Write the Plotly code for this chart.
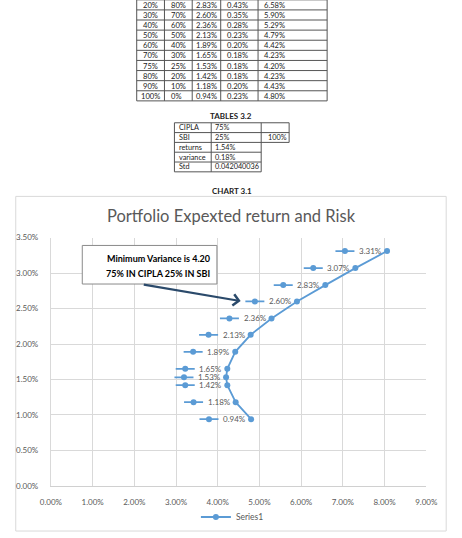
import plotly.graph_objects as go

# ---------------- data ----------------
cipla_w = ["0%", "10%", "20%", "30%", "40%", "50%", "60%", "70%", "75%", "80%", "90%", "100%"]
sbi_w = ["100%", "90%", "80%", "70%", "60%", "50%", "40%", "30%", "25%", "20%", "10%", "0%"]
returns_pct = [3.31, 3.07, 2.83, 2.60, 2.36, 2.13, 1.89, 1.65, 1.53, 1.42, 1.18, 0.94]
variance_pct = [0.65, 0.53, 0.43, 0.35, 0.28, 0.23, 0.20, 0.18, 0.18, 0.18, 0.20, 0.23]
std_pct = [8.06, 7.30, 6.58, 5.90, 5.29, 4.79, 4.42, 4.23, 4.20, 4.23, 4.43, 4.80]

t2_labels = ["CIPLA", "SBI", "returns", "variance", "Std"]
t2_values = ["75%", "25%", "1.54%", "0.18%", "0.042040036"]
t2_extra = ["", "100%"]

chart_title = "Portfolio Expexted return and Risk"
note_lines = ["Minimum Variance is 4.20", "75% IN CIPLA 25% IN SBI"]

# ---------------- geometry helpers ----------------
W, H = 462, 538
def px(x):
    return x / W
def py(y):
    return 1 - y / H

FONT = "Lato"
BLUE = "#5B9BD5"
GRAY_TXT = "#595959"

# plot area in pixels
PL, PR, PT, PB = 42, 437, 237, 490
XMAX, YMAX = 0.09, 0.035
px_per_x = (PR - PL) / XMAX

x_vals = [v / 100 for v in std_pct]
y_vals = [v / 100 for v in returns_pct]

fig = go.Figure()

# data-label legend keys (placed left of each point)
key_off = 44.3 / px_per_x
seg = 10.0 / px_per_x
kx, ky = [], []
for x, y in zip(x_vals, y_vals):
    kx += [x - key_off - seg, x - key_off + seg, None]
    ky += [y, y, None]
fig.add_trace(go.Scatter(x=kx, y=ky, mode="lines", line=dict(color=BLUE, width=1.8),
                         showlegend=False, hoverinfo="skip"))
fig.add_trace(go.Scatter(x=[x - key_off for x in x_vals], y=y_vals, mode="markers",
                         marker=dict(color=BLUE, size=6), showlegend=False, hoverinfo="skip"))

# main series
fig.add_trace(go.Scatter(x=x_vals, y=y_vals, mode="lines+markers", name="Series1",
                         line=dict(color=BLUE, width=1.8), marker=dict(color=BLUE, size=6)))

annotations = []
shapes = []

# data labels
for x, y, r in zip(x_vals, y_vals, returns_pct):
    annotations.append(dict(x=x, y=y, xref="x", yref="y", text=f"{r:.2f}%", showarrow=False,
                            xanchor="left", yanchor="middle", xshift=-30,
                            font=dict(family=FONT, size=8, color=GRAY_TXT)))

# ---------------- table 1 (top, partially scrolled off) ----------------
LINE_C = "#555555"
t1_cols = [132.3, 161.5, 190.7, 220.7, 260.0, 332.7]
row_h = 10.3
first_center = -0.15 - 2 * row_h
bottom = first_center + (len(cipla_w) - 0.5) * row_h
for i in range(len(cipla_w) + 1):
    yb = first_center - row_h / 2 + i * row_h
    shapes.append(dict(type="line", xref="paper", yref="paper", x0=px(t1_cols[0]), x1=px(t1_cols[-1]),
                       y0=py(yb), y1=py(yb), line=dict(color=LINE_C, width=1)))
for c in t1_cols:
    shapes.append(dict(type="line", xref="paper", yref="paper", x0=px(c), x1=px(c),
                       y0=py(first_center - row_h / 2), y1=py(bottom), line=dict(color=LINE_C, width=1)))
tfont = dict(family=FONT, size=7.6, color="#222222")
for i in range(len(cipla_w)):
    yc = first_center + i * row_h
    cells = [cipla_w[i], sbi_w[i], f"{returns_pct[i]:.2f}%", f"{variance_pct[i]:.2f}%", f"{std_pct[i]:.2f}%"]
    xs = [146.5, 166.0, 193.0, 225.5, 264.5]
    anchors = ["center", "left", "left", "left", "left"]
    for t, xx, a in zip(cells, xs, anchors):
        annotations.append(dict(x=px(xx), y=py(yc), xref="paper", yref="paper", text=t, showarrow=False,
                                xanchor=a, yanchor="middle", font=tfont))

annotations.append(dict(x=px(232), y=py(113), xref="paper", yref="paper", text="<b>TABLES 3.2</b>",
                        showarrow=False, xanchor="center", yanchor="middle",
                        font=dict(family=FONT, size=8, color="#222222")))

# ---------------- table 2 ----------------
t2_cols = [172.0, 210.7, 263.3, 292.7]
t2_top, t2_h = 120.0, 10.0
n2 = len(t2_labels)
for i in range(n2 + 1):
    yb = t2_top + i * t2_h
    xr = t2_cols[3] if i <= 2 else t2_cols[2]
    shapes.append(dict(type="line", xref="paper", yref="paper", x0=px(t2_cols[0]), x1=px(xr),
                       y0=py(yb), y1=py(yb), line=dict(color=LINE_C, width=1)))
for j, c in enumerate(t2_cols):
    yend = t2_top + (n2 if j <= 2 else 2) * t2_h
    shapes.append(dict(type="line", xref="paper", yref="paper", x0=px(c), x1=px(c),
                       y0=py(t2_top), y1=py(yend), line=dict(color=LINE_C, width=1)))
t2font = dict(family=FONT, size=7.3, color="#222222")
for i in range(n2):
    yc = t2_top + (i + 0.5) * t2_h
    annotations.append(dict(x=px(174.5), y=py(yc), xref="paper", yref="paper", text=t2_labels[i],
                            showarrow=False, xanchor="left", yanchor="middle", font=t2font))
    annotations.append(dict(x=px(213.0), y=py(yc), xref="paper", yref="paper", text=t2_values[i],
                            showarrow=False, xanchor="left", yanchor="middle", font=t2font))
    if i < len(t2_extra) and t2_extra[i]:
        annotations.append(dict(x=px(268.5), y=py(yc), xref="paper", yref="paper", text=t2_extra[i],
                                showarrow=False, xanchor="left", yanchor="middle", font=t2font))

annotations.append(dict(x=px(233), y=py(190), xref="paper", yref="paper", text="<b>CHART 3.1</b>",
                        showarrow=False, xanchor="center", yanchor="middle",
                        font=dict(family=FONT, size=8, color="#222222")))

# ---------------- chart frame, title, note ----------------
shapes.append(dict(type="rect", xref="paper", yref="paper", x0=px(5), x1=px(458), y0=py(195), y1=py(536),
                   line=dict(color="#d9d9d9", width=1), fillcolor="rgba(0,0,0,0)", layer="below"))
annotations.append(dict(x=px(232), y=py(215), xref="paper", yref="paper", text=chart_title,
                        showarrow=False, xanchor="center", yanchor="middle",
                        font=dict(family=FONT, size=16.5, color=GRAY_TXT)))

shapes.append(dict(type="rect", xref="paper", yref="paper", x0=px(75), x1=px(216.7), y0=py(245), y1=py(284.3),
                   line=dict(color="#8a8a8a", width=1), fillcolor="white", layer="above"))
for k, line in enumerate(note_lines):
    annotations.append(dict(x=px(155), y=py(258.5 + 15 * k), xref="paper", yref="paper",
                            text=f"<b>{line}</b>", showarrow=False, xanchor="center", yanchor="middle",
                            font=dict(family=FONT, size=9, color="#000000")))
annotations.append(dict(x=px(241.7), y=py(301.7), xref="paper", yref="paper", text="",
                        showarrow=True, arrowhead=4, arrowsize=1, arrowwidth=2.2, arrowcolor="#2B4A6B",
                        ax=143.3 - 241.7, ay=285 - 301.7, standoff=0))

fig.update_layout(
    width=W, height=H, autosize=False,
    margin=dict(l=0, r=0, t=0, b=0),
    paper_bgcolor="white", plot_bgcolor="white",
    showlegend=True,
    legend=dict(orientation="h", x=px(233), xanchor="center", y=py(521.7), yanchor="middle",
                font=dict(family=FONT, size=8.5, color=GRAY_TXT), itemwidth=30,
                bgcolor="rgba(0,0,0,0)"),
    xaxis=dict(domain=[px(PL), px(PR)], range=[0, XMAX], dtick=0.01, tickformat=".2%",
               showgrid=True, gridcolor="#d9d9d9", gridwidth=1, zeroline=False,
               showline=True, linecolor="#d0d0d0", ticks="", ticklabelstandoff=9,
               tickfont=dict(family=FONT, size=8, color=GRAY_TXT), fixedrange=True),
    yaxis=dict(domain=[py(PB), py(PT)], range=[0, YMAX], dtick=0.005, tickformat=".2%",
               showgrid=True, gridcolor="#d9d9d9", gridwidth=1, zeroline=False,
               showline=True, linecolor="#d9d9d9", ticks="", ticklabelstandoff=10,
               tickfont=dict(family=FONT, size=8, color=GRAY_TXT), fixedrange=True),
    annotations=annotations,
    shapes=shapes,
)

fig.write_html("out.html")
